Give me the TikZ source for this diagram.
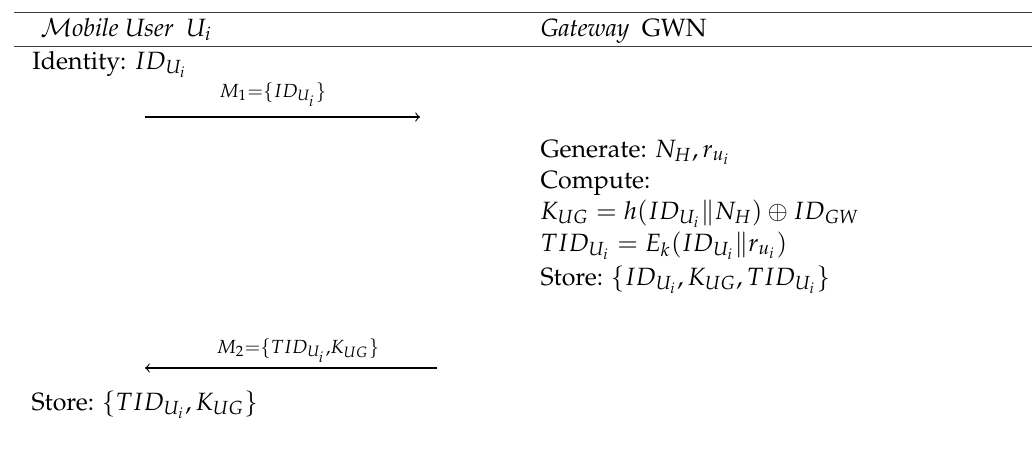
\documentclass[tikz,border=0pt]{standalone}
\usepackage[T1]{fontenc}
\usepackage{mathpazo}
\begin{document}
\begin{tikzpicture}[x=0.4pt,y=-0.4pt,
  txt/.style={anchor=base west,inner sep=0pt,font=\fontsize{10}{12}\selectfont},
  lbl/.style={anchor=base,inner sep=0pt},
  rulesty/.style={line width=0.6pt,black!75},
  msg/.style={line width=0.45pt,->}]
\useasboundingbox (0,0) rectangle (1032,448);
% rules
\coordinate (r1a) at (14,12.5); \coordinate (r1b) at (1032,12.5);
\coordinate (r2a) at (14,46.5); \coordinate (r2b) at (1032,46.5);
\draw[rulesty] (r1a) -- (r1b);
\draw[rulesty] (r2a) -- (r2b);
% headers
\node[txt] (hu) at (40,36) {$\mathcal{M}$\textit{obile User}\ \ $U_i$};
\node[txt] (hg) at (540,36) {\textit{Gateway}\ \ GWN};
% user side
\node[txt] (id) at (32,69) {Identity: $ID_{U_i}$};
\coordinate (m1s) at (145,117); \coordinate (m1e) at (420,117);
\draw[msg] (m1s) -- (m1e);
\node[lbl] (m1) at (273,97) {$\scriptstyle M_1=\{ID_{U_i}\}$};
% gateway side
\node[txt] (g1) at (540,157) {Generate: $N_H, r_{u_i}$};
\node[txt] (g2) at (540,188) {Compute:};
\node[txt] (g3) at (540,219) {$K_{UG} = h(ID_{U_i} \| N_H) \oplus ID_{GW}$};
\node[txt] (g4) at (540,251) {$TID_{U_i} = E_k(ID_{U_i} \| r_{u_i})$};
\node[txt] (g5) at (540,285) {Store: $\{ID_{U_i}, K_{UG}, TID_{U_i}\}$};
% message 2
\coordinate (m2s) at (437,368); \coordinate (m2e) at (145,368);
\draw[msg] (m2s) -- (m2e);
\node[lbl] (m2) at (298,353) {$\scriptstyle M_2=\{TID_{U_i},K_{UG}\}$};
\node[txt] (st) at (31,410) {Store: $\{TID_{U_i}, K_{UG}\}$};
\end{tikzpicture}
\end{document}
